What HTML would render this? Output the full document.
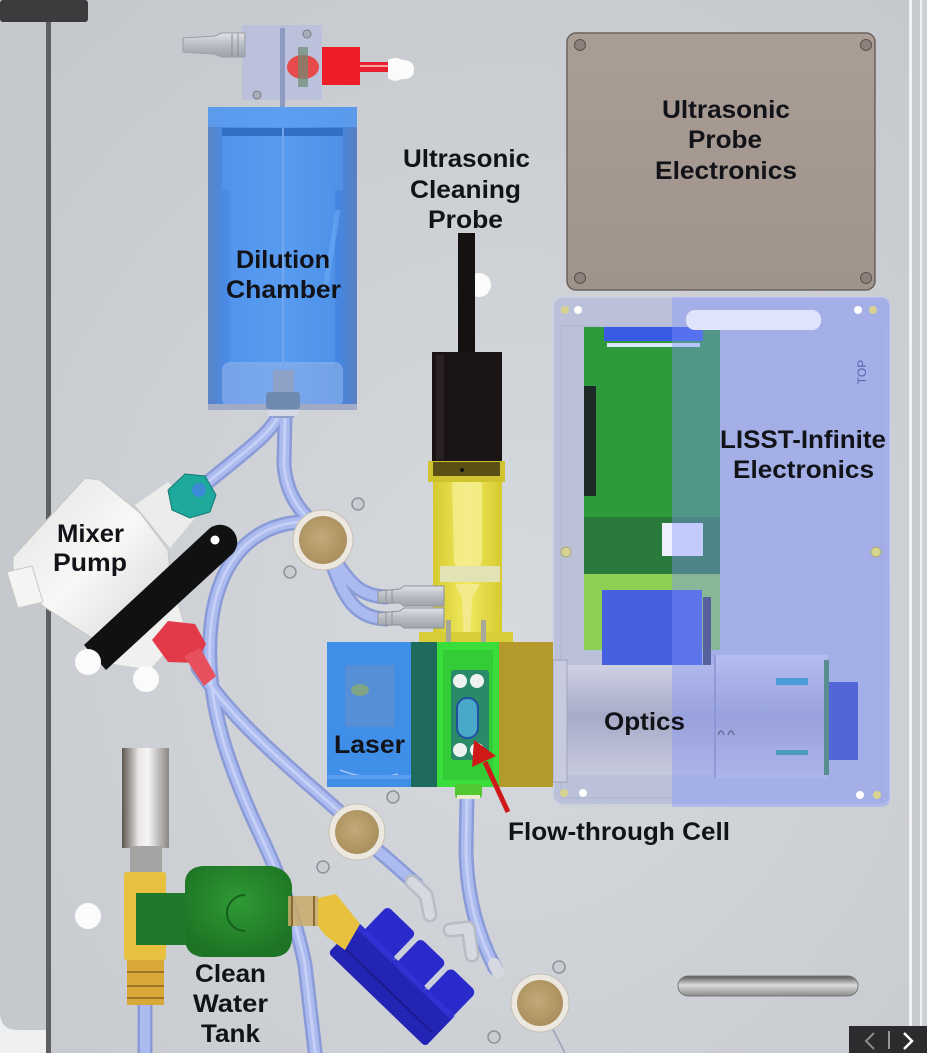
<!DOCTYPE html>
<html><head><meta charset="utf-8">
<style>
html,body{margin:0;padding:0;background:#cfd2d7;overflow:hidden}
svg{display:block}
.lb{font-family:"Liberation Sans",Arial,sans-serif;font-weight:bold;font-size:25px;fill:#121319}
</style></head><body>
<svg width="927" height="1053" viewBox="0 0 927 1053" xmlns="http://www.w3.org/2000/svg">
<defs>
<radialGradient id="bg" cx="0.55" cy="0.6" r="0.75">
<stop offset="0" stop-color="#d6d9dd"/><stop offset="1" stop-color="#c5c8cd"/>
</radialGradient>
<linearGradient id="chamber" x1="0" x2="1">
<stop offset="0" stop-color="#5a84c4"/><stop offset="0.12" stop-color="#4a8ae6"/><stop offset="0.5" stop-color="#5398ef"/><stop offset="0.88" stop-color="#4586e0"/><stop offset="1" stop-color="#5a80c0"/>
</linearGradient>
<linearGradient id="silver" x1="0" x2="1">
<stop offset="0" stop-color="#5e5650"/><stop offset="0.35" stop-color="#e8e6e4"/><stop offset="0.55" stop-color="#f6f6f6"/><stop offset="1" stop-color="#8a8684"/>
</linearGradient>
<linearGradient id="box" x1="0" y1="0" x2="0" y2="1"><stop offset="0" stop-color="#a99d95"/><stop offset="1" stop-color="#9f938b"/></linearGradient>
<linearGradient id="optics" x1="0" y1="0" x2="0" y2="1"><stop offset="0" stop-color="#d6d8e8"/><stop offset="0.5" stop-color="#a7abc8"/><stop offset="1" stop-color="#c9cbdf"/></linearGradient>
<linearGradient id="yellow" x1="0" x2="1"><stop offset="0" stop-color="#d6ca2e"/><stop offset="0.5" stop-color="#f2ea62"/><stop offset="1" stop-color="#d6ca2e"/></linearGradient>
<linearGradient id="slot" x1="0" y1="0" x2="0" y2="1"><stop offset="0" stop-color="#555"/><stop offset="0.45" stop-color="#dcdcdc"/><stop offset="1" stop-color="#8a8a8a"/></linearGradient>
<radialGradient id="brass" cx="0.45" cy="0.45" r="0.6"><stop offset="0" stop-color="#c2aa7a"/><stop offset="1" stop-color="#a88e5c"/></radialGradient>
<linearGradient id="pumpg" x1="0" y1="0" x2="1" y2="1"><stop offset="0" stop-color="#e2e2e0"/><stop offset="0.5" stop-color="#f8f8f6"/><stop offset="1" stop-color="#d2d2d0"/></linearGradient>
<radialGradient id="greenv" cx="0.5" cy="0.4" r="0.6"><stop offset="0" stop-color="#2f9a36"/><stop offset="1" stop-color="#1d7424"/></radialGradient>
<linearGradient id="barb" x1="0" y1="0" x2="0" y2="1"><stop offset="0" stop-color="#e0e2e6"/><stop offset="0.5" stop-color="#b8bcc4"/><stop offset="1" stop-color="#9ea2aa"/></linearGradient>
<path id="t1" d="M279,414 C272,432 250,448 198,490"/>
<path id="t2" d="M285,414 L284,465 C286,490 296,507 312,522"/>
<path id="t3a" d="M336,562 C352,586 362,596 386,597"/>
<path id="t3b" d="M333,566 C345,600 357,618 386,619"/>
<path id="t4" d="M300,522 C248,526 213,566 210,640 C207,705 228,765 258,830 C282,880 297,925 305,965 L316,1060"/>
<path id="t5" d="M198,668 C238,728 298,774 343,815"/>
<path id="t6" d="M372,846 C390,860 402,872 416,884"/>
<path id="t7" d="M467,795 L466,850 C467,900 478,935 495,968"/>
<path id="t8" d="M145,1000 L145,1060"/>
<path id="t9" d="M548,1020 L565,1053"/>
</defs>

<!-- background -->
<rect width="927" height="1053" fill="url(#bg)"/>
<rect x="0" y="0" width="46" height="1030" fill="#c5c8cc"/>
<path d="M0,1012 Q0,1030 18,1030 L46,1030 L46,1053 L0,1053 Z" fill="#eeeff0"/>
<rect x="46" y="0" width="5" height="1053" fill="#5e5f61"/>
<rect x="0" y="0" width="88" height="22" rx="3" fill="#3c3c3e"/>
<rect x="909" y="0" width="3" height="1053" fill="#f2f3f5"/>
<rect x="912" y="0" width="8" height="1053" fill="#c6c9ce"/>
<rect x="920" y="0" width="2" height="1053" fill="#eef0f2"/>
<rect x="922" y="0" width="5" height="1053" fill="#cdd0d5"/>

<!-- Ultrasonic probe electronics box -->
<rect x="567" y="33" width="308" height="257" rx="9" fill="url(#box)" stroke="#6c625c" stroke-width="1.5"/>
<g fill="#8c807a" stroke="#5a524c" stroke-width="1">
<circle cx="580" cy="45" r="5.5"/><circle cx="866" cy="45" r="5.5"/><circle cx="580" cy="278" r="5.5"/><circle cx="866" cy="278" r="5.5"/>
</g>

<!-- LISST panel -->
<rect x="553" y="297" width="337" height="508" rx="10" fill="#bac1d9" stroke="#cdd2e2" stroke-width="2"/>
<rect x="561" y="326" width="321" height="472" fill="none" stroke="#a9afc6" stroke-width="1" opacity="0.6"/>
<rect x="584" y="327" width="136" height="323" fill="#2f9a3c"/>
<rect x="604" y="327" width="99" height="14" fill="#3a5ae6"/>
<rect x="607" y="343" width="93" height="4" fill="#dce4ff"/>
<rect x="584" y="386" width="12" height="110" fill="#1e2a28"/>
<rect x="584" y="517" width="136" height="57" fill="#2a7a3c"/>
<rect x="584" y="574" width="136" height="76" fill="#8ccf55"/>
<rect x="662" y="523" width="41" height="33" fill="#eef0ff"/>
<rect x="602" y="590" width="100" height="91" fill="#4560e0"/>
<rect x="703" y="597" width="8" height="95" fill="#3a3f60"/>
<!-- Optics -->
<path d="M555,665 H715 V655 H828 V778 H715 V775 H555 Z" fill="url(#optics)"/>
<rect x="553" y="660" width="14" height="122" fill="#c8cbdd" stroke="#a0a4bc" stroke-width="1"/>
<line x1="715" y1="655" x2="715" y2="778" stroke="#8d92b4" stroke-width="1.5"/>
<rect x="828" y="682" width="30" height="78" fill="#3548c0"/>
<rect x="824" y="660" width="5" height="115" fill="#3c8a48"/>
<rect x="776" y="678" width="32" height="7" fill="#2aa0c0"/>
<rect x="776" y="750" width="32" height="5" fill="#2aa090"/>
<path d="M718,735 q3,-8 6,0 M728,735 q3,-8 6,0" stroke="#555" stroke-width="1.5" fill="none"/>
<path d="M672,297 H880 Q890,297 890,307 V797 Q890,807 880,807 H672 Z" fill="#8293fb" opacity="0.4"/>
<rect x="686" y="310" width="135" height="20" rx="9" fill="#dfe4fa"/>
<text x="866" y="372" transform="rotate(-90 866 372)" text-anchor="middle" font-family="Liberation Sans,Arial,sans-serif" font-size="12" fill="#5864b0">TOP</text>
<g>
<circle cx="565" cy="310" r="4" fill="#d8d290"/><circle cx="578" cy="310" r="4" fill="#fff"/>
<circle cx="858" cy="310" r="4" fill="#fff"/><circle cx="873" cy="310" r="4" fill="#d8d290"/>
<circle cx="564" cy="793" r="4" fill="#d8d290"/><circle cx="583" cy="793" r="4" fill="#fff"/>
<circle cx="860" cy="795" r="4" fill="#fff"/><circle cx="877" cy="795" r="4" fill="#d8d290"/>
<circle cx="566" cy="552" r="5" fill="#d8d290" stroke="#a8a880"/><circle cx="876" cy="552" r="5" fill="#d8d290" stroke="#a8a880"/>
</g>

<!-- tubes -->
<g fill="none" stroke-linecap="round">
<g stroke="#8a9bd8" stroke-width="15">
<use href="#t1"/><use href="#t2"/><use href="#t3a"/><use href="#t3b"/><use href="#t4"/><use href="#t5"/><use href="#t6"/><use href="#t7"/><use href="#t8"/>
</g>
<g stroke="#abbaef" stroke-width="10">
<use href="#t1"/><use href="#t2"/><use href="#t3a"/><use href="#t3b"/><use href="#t4"/><use href="#t5"/><use href="#t6"/><use href="#t7"/><use href="#t8"/>
</g>
<g stroke="#c6d0f6" stroke-width="3">
<use href="#t1"/><use href="#t2"/><use href="#t4"/><use href="#t5"/><use href="#t7"/>
</g>
<use href="#t9" stroke="#9aa0b8" stroke-width="1.5"/>
</g>

<!-- grommets -->
<g>
<circle cx="323" cy="540" r="30" fill="#ece8e0" stroke="#c4c0b8"/><circle cx="323" cy="540" r="24" fill="url(#brass)"/>
<circle cx="357" cy="832" r="28" fill="#ece8e0" stroke="#c4c0b8"/><circle cx="357" cy="832" r="22" fill="url(#brass)"/>
<circle cx="540" cy="1003" r="29" fill="#ece8e0" stroke="#c4c0b8"/><circle cx="540" cy="1003" r="23" fill="url(#brass)"/>
</g>
<g fill="#c9ccd1" stroke="#8e9298" stroke-width="1.5">
<circle cx="358" cy="504" r="6"/><circle cx="290" cy="572" r="6"/><circle cx="393" cy="797" r="6"/><circle cx="323" cy="867" r="6"/><circle cx="559" cy="967" r="6"/><circle cx="494" cy="1037" r="6"/>
</g>
<circle cx="479" cy="285" r="12" fill="#fbfbfb"/>
<circle cx="88" cy="916" r="13" fill="#fbfbfb"/>

<!-- dilution chamber top -->
<rect x="242" y="25" width="80" height="75" fill="#b9bfdc" opacity="0.9"/>
<circle cx="307" cy="34" r="4" fill="#a8acb8" stroke="#7a7e88"/>
<circle cx="257" cy="95" r="4" fill="#a8acb8" stroke="#7a7e88"/>
<path d="M183,38 L215,36 L222,33 L245,33 L245,57 L222,57 L215,54 L183,52 Z" fill="url(#barb)" stroke="#9a9ea6" stroke-width="1"/>
<line x1="232" y1="34" x2="232" y2="56" stroke="#8a8e96"/><line x1="238" y1="34" x2="238" y2="56" stroke="#8a8e96"/>
<rect x="280" y="28" width="5" height="98" fill="#8e9ac0"/>
<ellipse cx="303" cy="67" rx="16" ry="12" fill="#e64a4a"/>
<rect x="298" y="47" width="10" height="40" fill="#6c8c74" opacity="0.7"/>
<rect x="322" y="47" width="38" height="38" fill="#ee1c26"/>
<rect x="360" y="62" width="36" height="10" fill="#e82030"/>
<line x1="360" y1="66" x2="396" y2="66" stroke="#ffd0d0" stroke-width="1.5"/>
<path d="M388,60 Q396,56 402,60 Q414,60 414,69 Q414,80 402,79 Q394,83 388,78 Z" fill="#fbfbfb"/>

<!-- dilution chamber -->
<rect x="208" y="107" width="149" height="303" fill="url(#chamber)"/>
<rect x="208" y="107" width="149" height="20" fill="#5ea0f2" opacity="0.8"/>
<rect x="222" y="128" width="121" height="8" fill="#3270c8"/>
<path d="M222,136 H343 V190 H335 V365 H230 V190 H222 Z" fill="#62a6f6" opacity="0.35"/>
<line x1="325" y1="290" x2="338" y2="210" stroke="#6cacf8" stroke-width="5" opacity="0.6"/>
<rect x="222" y="362" width="121" height="45" rx="8" fill="#9ab8ec" opacity="0.55"/>
<rect x="208" y="404" width="149" height="6" fill="#a0aac4"/>
<line x1="283" y1="128" x2="283" y2="372" stroke="#74a6ee" stroke-width="2"/>
<rect x="273" y="370" width="21" height="48" fill="#8ea2c8"/>
<rect x="266" y="392" width="34" height="17" rx="3" fill="#6f8ab0"/>
<rect x="268" y="410" width="30" height="6" fill="#d6dae4"/>

<!-- ultrasonic probe -->
<rect x="458" y="233" width="17" height="125" fill="#151111"/>
<rect x="432" y="352" width="70" height="112" fill="#1a1414"/>
<rect x="436" y="355" width="8" height="105" fill="#2a2222"/>
<rect x="428" y="461" width="77" height="21" fill="#cfc42e"/>
<rect x="433" y="462" width="67" height="14" fill="#5a5016"/>
<circle cx="462" cy="470" r="2" fill="#111"/>
<rect x="433" y="482" width="69" height="152" fill="url(#yellow)"/>
<path d="M452,482 H482 V560 L478,575 H458 L454,560 Z" fill="#f6f09a" opacity="0.7"/>
<rect x="440" y="566" width="60" height="16" fill="#e2e2b4"/>
<path d="M455,584 H480 L472,598 L470,640 H464 L462,598 Z" fill="#f2ea8c"/>
<rect x="419" y="632" width="94" height="12" fill="#d8cc38"/>
<rect x="446" y="620" width="5" height="24" fill="#a8a89a"/>
<rect x="481" y="620" width="5" height="24" fill="#a8a89a"/>

<g stroke="#8e929a" stroke-width="1">
<path d="M378,591 L400,589 L404,586 L444,586 L444,606 L404,606 L400,603 L378,603 Z" fill="url(#barb)"/>
<path d="M378,613 L400,611 L404,608 L444,608 L444,628 L404,628 L400,625 L378,625 Z" fill="url(#barb)"/>
<path d="M386,590 V604 M392,590 V604 M386,612 V626 M392,612 V626" fill="none"/>
</g>

<!-- laser block -->
<rect x="327" y="642" width="84" height="145" fill="#3f8ee8"/>
<rect x="345" y="665" width="50" height="62" fill="#6690c8" opacity="0.6"/>
<ellipse cx="360" cy="690" rx="9" ry="6" fill="#8aa870" opacity="0.8"/>
<path d="M340,770 Q370,782 398,774" stroke="#9cc2f4" fill="none" stroke-width="1.5"/>
<rect x="327" y="775" width="84" height="4" fill="#5c9cf0"/>
<rect x="411" y="642" width="26" height="145" fill="#1e6b5e"/>
<rect x="437" y="642" width="62" height="145" fill="#3ade3c"/>
<rect x="443" y="650" width="50" height="130" fill="#2ec034" opacity="0.6"/>
<rect x="499" y="642" width="54" height="145" fill="#b49a2c"/>
<rect x="451" y="670" width="38" height="90" rx="3" fill="#2a8a68"/>
<g fill="#eef2ee"><circle cx="460" cy="681" r="7"/><circle cx="477" cy="681" r="7"/><circle cx="460" cy="750" r="7"/><circle cx="477" cy="750" r="7"/></g>
<rect x="457" y="698" width="21" height="40" rx="10" fill="#4aa8c8" stroke="#2050a0" stroke-width="2"/>
<rect x="455" y="784" width="27" height="14" rx="3" fill="#52c830"/>
<rect x="457" y="795" width="23" height="4" fill="#e8ecc8"/>

<!-- red arrow -->
<line x1="508" y1="812" x2="485" y2="762" stroke="#d01818" stroke-width="5"/>
<polygon points="474,740 496,756 472,767" fill="#d01818"/>

<!-- mixer pump -->
<polygon points="135,505 168,482 200,512 170,548" fill="#ececea"/>
<polygon points="168,490 185,474 205,476 216,495 210,512 190,518 172,510" fill="#1fa89c" stroke="#137a72"/>
<circle cx="199" cy="490" r="7" fill="#3a8ad6"/>
<polygon points="13,557 85,478 100,480 140,513 168,550 172,600 120,650 90,637 43,606 13,578" fill="url(#pumpg)" stroke="#c4c4c4"/>
<polygon points="7,572 32,566 43,602 18,608" fill="#f4f4f2" stroke="#c8c8c8"/>
<polygon points="98,662 150,670 186,630 176,598" fill="#f0f0ee" stroke="#d0d0d0"/>
<path d="M84,645 L106,670 L230,556 A15,15 0 0 0 210,528 Z" fill="#111"/>
<circle cx="215" cy="540" r="4.5" fill="#fff"/>
<polygon points="152,640 168,621 195,624 206,644 196,663 168,662" fill="#e23a48"/>
<polygon points="184,656 200,648 216,676 204,686" fill="#e8505e"/>
<circle cx="88" cy="662" r="13" fill="#fbfbfb"/>
<circle cx="146" cy="679" r="13" fill="#fbfbfb"/>

<!-- gray elbows -->
<g fill="none" stroke-linecap="round" stroke-linejoin="round">
<path d="M412,882 L426,895 L430,915" stroke="#b8bcc6" stroke-width="15"/>
<path d="M412,882 L426,895 L430,915" stroke="#d6d9e0" stroke-width="10"/>
<path d="M450,930 L468,928 L472,955" stroke="#b8bcc6" stroke-width="15"/>
<path d="M450,930 L468,928 L472,955" stroke="#d6d9e0" stroke-width="10"/>
<path d="M494,964 L498,972" stroke="#d6d9e0" stroke-width="12"/>
</g>

<!-- blue manifold -->
<g transform="translate(358,922) rotate(44)">
<rect x="0" y="0" width="135" height="43" rx="4" fill="#2424b4"/>
<rect x="10" y="-32" width="40" height="36" rx="5" fill="#2a2acc"/>
<rect x="56" y="-32" width="36" height="36" rx="5" fill="#2a2acc"/>
<rect x="98" y="-32" width="36" height="36" rx="6" fill="#2a2acc"/>
<line x1="52" y1="-30" x2="52" y2="2" stroke="#c8cce0" stroke-width="2"/>
<line x1="95" y1="-30" x2="95" y2="2" stroke="#c8cce0" stroke-width="2"/>
<rect x="0" y="0" width="135" height="6" fill="#3434d8" opacity="0.7"/>
<line x1="6" y1="28" x2="130" y2="28" stroke="#1a1a90" stroke-width="2"/>
</g>

<!-- clean water tank valve -->
<rect x="122" y="748" width="47" height="100" fill="url(#silver)"/>
<rect x="130" y="846" width="32" height="28" fill="#a6a4a2"/>
<rect x="124" y="872" width="42" height="88" rx="3" fill="#e8c040"/>
<rect x="136" y="893" width="52" height="52" fill="#1e7a2a"/>
<path d="M185,882 Q186,868 202,866 L272,866 Q290,870 292,886 L292,940 Q290,956 274,957 L202,957 Q186,955 185,940 Z" fill="url(#greenv)"/>
<path d="M245,895 A18,18 0 1 0 245,931" stroke="#175e1d" stroke-width="2" fill="none"/>
<rect x="288" y="896" width="30" height="30" fill="#c9aa6a" opacity="0.85"/>
<line x1="292" y1="896" x2="292" y2="926" stroke="#8a6a30" stroke-width="2"/>
<line x1="314" y1="896" x2="314" y2="926" stroke="#8a6a30" stroke-width="2"/>
<polygon points="318,898 336,894 360,924 345,950 326,936 318,926" fill="#e8c23e"/>
<rect x="127" y="960" width="37" height="45" fill="#d8a838"/>
<g stroke="#8a6418" stroke-width="1.5"><line x1="127" y1="972" x2="164" y2="972"/><line x1="127" y1="986" x2="164" y2="986"/><line x1="127" y1="998" x2="164" y2="998"/></g>

<!-- slot -->
<rect x="678" y="976" width="180" height="20" rx="10" fill="url(#slot)" stroke="#777" stroke-width="1"/>

<!-- nav -->
<rect x="849" y="1026" width="78" height="27" fill="#2c2c2e"/>
<polyline points="874,1033 866,1041 874,1049" fill="none" stroke="#8a8a8a" stroke-width="2"/>
<line x1="889" y1="1031" x2="889" y2="1049" stroke="#bbb" stroke-width="1.5"/>
<polyline points="904,1033 912,1041 904,1049" fill="none" stroke="#fff" stroke-width="2.5"/>

<!-- labels -->
<text class="lb" x="236" y="268" textLength="94" lengthAdjust="spacingAndGlyphs">Dilution</text>
<text class="lb" x="226" y="298" textLength="115" lengthAdjust="spacingAndGlyphs">Chamber</text>
<text class="lb" x="403" y="167" textLength="127" lengthAdjust="spacingAndGlyphs">Ultrasonic</text>
<text class="lb" x="410" y="198" textLength="111" lengthAdjust="spacingAndGlyphs">Cleaning</text>
<text class="lb" x="428" y="228" textLength="75" lengthAdjust="spacingAndGlyphs">Probe</text>
<text class="lb" x="662" y="118" textLength="128" lengthAdjust="spacingAndGlyphs">Ultrasonic</text>
<text class="lb" x="688" y="148" textLength="74" lengthAdjust="spacingAndGlyphs">Probe</text>
<text class="lb" x="655" y="179" textLength="142" lengthAdjust="spacingAndGlyphs">Electronics</text>
<text class="lb" x="720" y="448" textLength="166" lengthAdjust="spacingAndGlyphs">LISST-Infinite</text>
<text class="lb" x="733" y="478" textLength="141" lengthAdjust="spacingAndGlyphs">Electronics</text>
<text class="lb" x="57" y="542" textLength="67" lengthAdjust="spacingAndGlyphs">Mixer</text>
<text class="lb" x="53" y="571" textLength="74" lengthAdjust="spacingAndGlyphs">Pump</text>
<text class="lb" x="604" y="730" textLength="81" lengthAdjust="spacingAndGlyphs">Optics</text>
<text class="lb" x="334" y="753" textLength="71" lengthAdjust="spacingAndGlyphs">Laser</text>
<text class="lb" x="508" y="840" textLength="222" lengthAdjust="spacingAndGlyphs">Flow-through Cell</text>
<text class="lb" x="195" y="982" textLength="71" lengthAdjust="spacingAndGlyphs">Clean</text>
<text class="lb" x="193" y="1012" textLength="75" lengthAdjust="spacingAndGlyphs">Water</text>
<text class="lb" x="201" y="1042" textLength="59" lengthAdjust="spacingAndGlyphs">Tank</text>
</svg>
</body></html>
